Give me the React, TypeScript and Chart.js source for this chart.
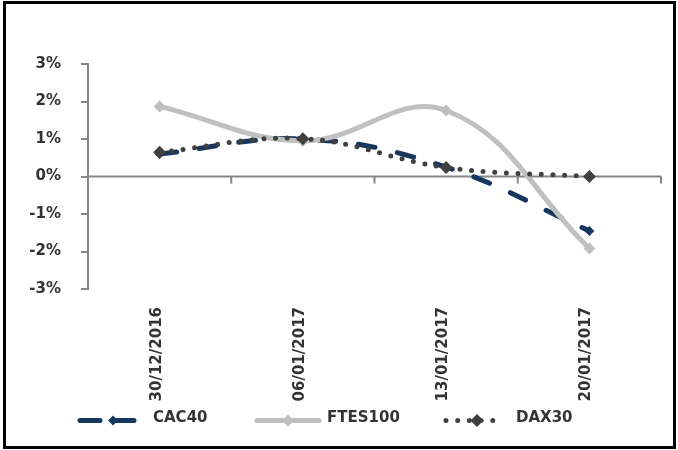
import React, { useEffect, useRef } from "react";
import { Chart, registerables } from "chart.js";

Chart.register(...registerables);

const categories = ["30/12/2016", "06/01/2017", "13/01/2017", "20/01/2017"];
const cac40 = [0.6, 1.0, 0.25, -1.45];
const ftes100 = [1.87, 0.95, 1.76, -1.92];
const dax30 = [0.65, 1.01, 0.24, 0.0];
const seriesNames = ["CAC40", "FTES100", "DAX30"];

const FONT = "'DejaVu Sans', sans-serif";
const TEXT = "#333333";
const AXIS = "#868686";
const NAVY = "#17375E";
const LIGHT = "#C0C0C0";
const DARK = "#404040";

function drawDiamond(ctx: CanvasRenderingContext2D, x: number, y: number, r: number, color: string) {
  ctx.save();
  ctx.setLineDash([]);
  ctx.fillStyle = color;
  ctx.beginPath();
  ctx.moveTo(x, y - r);
  ctx.lineTo(x + r, y);
  ctx.lineTo(x, y + r);
  ctx.lineTo(x - r, y);
  ctx.closePath();
  ctx.fill();
  ctx.restore();
}

const zeroAxisPlugin = {
  id: "zeroAxis",
  beforeDatasetsDraw(chart: any) {
    const { ctx, chartArea, scales } = chart;
    const y0 = scales.y.getPixelForValue(0);
    const xs = scales.x;
    const w = xs.getPixelForValue(1) - xs.getPixelForValue(0);
    const start = xs.getPixelForValue(0) - w / 2;
    ctx.save();
    ctx.strokeStyle = AXIS;
    ctx.lineWidth = 2;
    ctx.beginPath();
    ctx.moveTo(chartArea.left, y0);
    ctx.lineTo(chartArea.right, y0);
    for (let i = 1; i <= categories.length; i++) {
      const px = start + i * w;
      ctx.moveTo(px, y0);
      ctx.lineTo(px, y0 + 7);
    }
    ctx.stroke();
    ctx.restore();
  },
};

const legendPlugin = {
  id: "customLegend",
  afterDraw(chart: any) {
    const { ctx } = chart;
    const ly = 420.5;
    ctx.save();
    ctx.lineCap = "round";
    ctx.lineWidth = 5;
    // CAC40
    ctx.strokeStyle = NAVY;
    ctx.setLineDash([20, 14]);
    ctx.beginPath();
    ctx.moveTo(80, ly);
    ctx.lineTo(136, ly);
    ctx.stroke();
    drawDiamond(ctx, 113, ly, 5, NAVY);
    // FTES100
    ctx.strokeStyle = LIGHT;
    ctx.setLineDash([]);
    ctx.beginPath();
    ctx.moveTo(257, ly);
    ctx.lineTo(319, ly);
    ctx.stroke();
    drawDiamond(ctx, 288, ly, 6, LIGHT);
    // DAX30
    ctx.strokeStyle = DARK;
    ctx.setLineDash([0, 11.7]);
    ctx.beginPath();
    ctx.moveTo(446, ly);
    ctx.lineTo(502, ly);
    ctx.stroke();
    drawDiamond(ctx, 477, ly, 6.5, DARK);
    ctx.setLineDash([]);
    ctx.fillStyle = TEXT;
    ctx.font = `bold 15px ${FONT}`;
    ctx.textBaseline = "middle";
    ctx.textAlign = "left";
    ctx.fillText(seriesNames[0], 153, 418);
    ctx.fillText(seriesNames[1], 327, 418);
    ctx.fillText(seriesNames[2], 516, 418);
    ctx.restore();
  },
};

export default function App() {
  const canvasRef = useRef<HTMLCanvasElement | null>(null);

  useEffect(() => {
    if (!canvasRef.current) return;
    const chart = new Chart(canvasRef.current, {
      type: "line",
      data: {
        labels: categories,
        datasets: [
          {
            label: seriesNames[2],
            data: dax30,
            borderColor: DARK,
            backgroundColor: DARK,
            borderWidth: 5,
            borderDash: [0, 11.7],
            borderCapStyle: "round",
            pointStyle: "rectRot",
            pointRadius: 6.5,
            pointBorderWidth: 0,
            pointBackgroundColor: DARK,
            tension: 0.4,
            fill: false,
          },
          {
            label: seriesNames[1],
            data: ftes100,
            borderColor: LIGHT,
            backgroundColor: LIGHT,
            borderWidth: 5,
            borderCapStyle: "round",
            pointStyle: "rectRot",
            pointRadius: 6,
            pointBorderWidth: 0,
            pointBackgroundColor: LIGHT,
            tension: 0.4,
            fill: false,
          },
          {
            label: seriesNames[0],
            data: cac40,
            borderColor: NAVY,
            backgroundColor: NAVY,
            borderWidth: 5,
            borderDash: [17, 23],
            borderCapStyle: "round",
            pointStyle: "rectRot",
            pointRadius: 5,
            pointBorderWidth: 0,
            pointBackgroundColor: NAVY,
            tension: 0.4,
            fill: false,
          },
        ],
      },
      options: {
        animation: false,
        responsive: false,
        maintainAspectRatio: false,
        layout: { padding: { left: 0, top: 64, right: 17, bottom: 0 } },
        plugins: {
          legend: { display: false },
          tooltip: { enabled: false },
          title: { display: false },
        },
        scales: {
          x: {
            type: "category",
            offset: true,
            grid: { display: false },
            border: { display: false },
            ticks: {
              minRotation: 90,
              maxRotation: 90,
              padding: 10,
              labelOffset: -3,
              color: TEXT,
              font: { family: FONT, size: 15, weight: "bold" },
              autoSkip: false,
            },
            afterFit: (s: any) => {
              s.height = 161;
            },
          },
          y: {
            min: -3,
            max: 3,
            grid: {
              display: true,
              drawOnChartArea: false,
              drawTicks: true,
              tickLength: 7,
              tickColor: AXIS,
              tickWidth: 2,
              color: AXIS,
              lineWidth: 2,
            },
            border: { display: true, color: AXIS, width: 2 },
            ticks: {
              stepSize: 1,
              padding: 20,
              color: TEXT,
              font: { family: FONT, size: 15, weight: "bold" },
              callback: (v: any) => `${v}%`,
            },
            afterFit: (s: any) => {
              s.width = 88;
            },
          },
        },
      },
      plugins: [zeroAxisPlugin, legendPlugin],
    } as any);
    return () => chart.destroy();
  }, []);

  return (
    <div style={{ position: "fixed", left: 0, top: 0, width: 678, height: 450, background: "#fff" }}>
      <canvas ref={canvasRef} width={678} height={450} style={{ display: "block", width: 678, height: 450 }} />
      <div
        style={{
          position: "absolute",
          left: 3,
          top: 1,
          width: 673,
          height: 448,
          border: "3px solid #000",
          boxSizing: "border-box",
          pointerEvents: "none",
        }}
      />
    </div>
  );
}
